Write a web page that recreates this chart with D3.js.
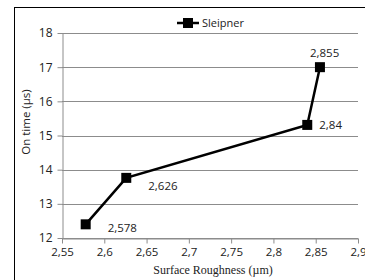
<!DOCTYPE html>
<html>
<head>
<meta charset="utf-8">
<script src="https://cdn.jsdelivr.net/npm/d3@7"></script>
<style>
  body { margin: 0; background: #fff; }
  svg text { font-family: "Open Sans", "Liberation Sans", sans-serif; fill: #222; }
  .grid line { stroke: #8c8c8c; stroke-width: 1; }
  .axis path, .axis line { stroke: #8c8c8c; }
  .title { font-family: "Liberation Serif", "Times New Roman", serif !important; }
</style>
</head>
<body>
<svg class="chart"></svg>
<script>
var roughness = [2.578, 2.626, 2.84, 2.855];
var onTime = [12.4, 13.76, 15.31, 17.0];
var pointLabels = ["2,578", "2,626", "2,84", "2,855"];
var xTicks = [2.55, 2.6, 2.65, 2.7, 2.75, 2.8, 2.85, 2.9];
var yTicks = [12, 13, 14, 15, 16, 17, 18];
var seriesName = "Sleipner";

var W = 365, H = 280;
var margin = {top: 33, right: 7, bottom: 42, left: 62},
    width = W - margin.left - margin.right,
    height = H - margin.top - margin.bottom;

var svg = d3.select("svg.chart")
  .attr("width", W)
  .attr("height", H);

// outer frame
svg.append("rect")
  .attr("x", 14.5).attr("y", 7.5)
  .attr("width", W).attr("height", H)
  .attr("fill", "none")
  .attr("stroke", "#000");

var g = svg.append("g")
  .attr("transform", "translate(" + margin.left + "," + margin.top + ")");

var x = d3.scaleLinear().domain([2.55, 2.9]).range([0, 296]);
var y = d3.scaleLinear().domain([12, 18]).range([205, 0]);

var fmt = function(d) { return String(+d.toFixed(2)).replace(".", ","); };

// horizontal grid
g.append("g")
  .attr("class", "grid")
  .selectAll("line")
  .data(yTicks)
  .enter().append("line")
  .attr("x1", 0).attr("x2", 296)
  .attr("y1", function(d) { return Math.round(y(d)) + 0.5; })
  .attr("y2", function(d) { return Math.round(y(d)) + 0.5; });

var yAxis = g.append("g")
  .attr("class", "axis")
  .attr("transform", "translate(0.5,0)")
  .call(d3.axisLeft(y).tickValues(yTicks).tickFormat(d3.format("d")).tickSize(5).tickSizeOuter(0).tickPadding(5));
yAxis.selectAll("text").style("font-size", "12px");

var xAxis = g.append("g")
  .attr("class", "axis")
  .attr("transform", "translate(0," + (205.5) + ")")
  .call(d3.axisBottom(x).tickValues(xTicks).tickFormat(fmt).tickSize(5).tickSizeOuter(0).tickPadding(4));
xAxis.selectAll("text").style("font-size", "11.5px");

// series line
var pts = roughness.map(function(r, i) { return {x: r, y: onTime[i], label: pointLabels[i]}; });

g.append("path")
  .datum(pts)
  .attr("fill", "none")
  .attr("stroke", "#000")
  .attr("stroke-width", 2.5)
  .attr("d", d3.line().x(function(d) { return x(d.x); }).y(function(d) { return y(d.y); }));

g.selectAll("rect.pt")
  .data(pts)
  .enter().append("rect")
  .attr("class", "pt")
  .attr("x", function(d) { return x(d.x) - 5; })
  .attr("y", function(d) { return y(d.y) - 5; })
  .attr("width", 10).attr("height", 10)
  .attr("fill", "#000");

// data labels
var labelOffsets = [[22, 4], [22, 8], [12, 0], [-10, -14]];
g.selectAll("text.lbl")
  .data(pts)
  .enter().append("text")
  .attr("class", "lbl")
  .attr("x", function(d, i) { return x(d.x) + labelOffsets[i][0]; })
  .attr("y", function(d, i) { return y(d.y) + labelOffsets[i][1]; })
  .attr("dy", "0.35em")
  .style("font-size", "11.5px")
  .text(function(d) { return d.label; });

// legend
var lg = svg.append("g").attr("transform", "translate(177,23)");
lg.append("line").attr("x1", 0).attr("x2", 22).attr("y1", 0).attr("y2", 0)
  .attr("stroke", "#000").attr("stroke-width", 2.5);
lg.append("rect").attr("x", 6).attr("y", -5).attr("width", 10).attr("height", 10).attr("fill", "#000");
lg.append("text").attr("x", 25).attr("y", 0).attr("dy", "0.35em")
  .style("font-size", "11px").text(seriesName);

// axis titles
svg.append("text")
  .attr("transform", "translate(30," + 122 + ") rotate(-90)")
  .attr("text-anchor", "middle")
  .style("font-size", "11.5px")
  .text("On time (µs)");

svg.append("text")
  .attr("class", "title")
  .attr("x", 213).attr("y", 274)
  .attr("text-anchor", "middle")
  .style("font-size", "12px")
  .text("Surface Roughness (µm)");
</script>
</body>
</html>
